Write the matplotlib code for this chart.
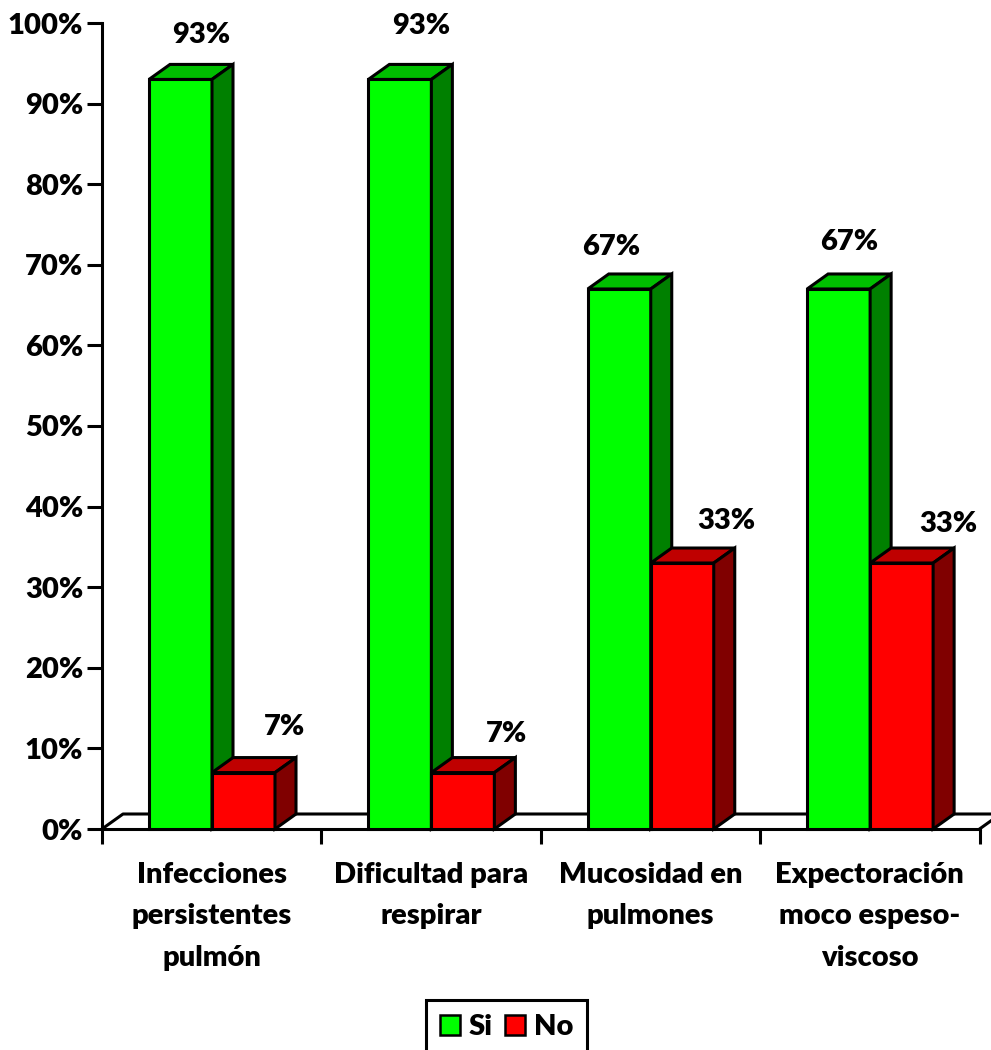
import numpy as np
import matplotlib
matplotlib.use("Agg")
import matplotlib.pyplot as plt
from matplotlib.patches import Patch, Polygon

plt.rcParams["font.family"] = ["Lato", "DejaVu Sans"]
plt.rcParams["font.weight"] = "heavy"

categories = ["Infecciones\npersistentes\npulmón", "Dificultad para\nrespirar",
              "Mucosidad en\npulmones", "Expectoración\nmoco espeso-\nviscoso"]
si_values = [93, 93, 67, 67]
no_values = [7, 7, 33, 33]
y_ticks = [0, 10, 20, 30, 40, 50, 60, 70, 80, 90, 100]

W, H = 991, 1050
LEFT, RIGHT, TOP, BOTTOM = 102, 979.5, 23, 829
LW = 2.2
FS = 21
WEIGHT = "heavy"

# depth of the fake 3d projection, in data units
DX = 21 / ((RIGHT - LEFT) / 4)
DY = 15 / ((BOTTOM - TOP) / 100)
BAR_W = 63 / ((RIGHT - LEFT) / 4)
BAR_START = 47 / ((RIGHT - LEFT) / 4)

# label offsets from the top centre of the bar (x in categories, y in %)
si_offsets = [(0.093, 5.46), (0.098, 6.57), (-0.039, 5.16), (0.046, 5.78)]
no_offsets = [(0.189, 5.6), (0.198, 4.74), (0.203, 5.16), (0.214, 4.79)]


def bar3d(ax, x, value, front, top, side):
    ax.bar(x, value, BAR_W, align="edge", color=front, edgecolor="black",
           linewidth=LW, clip_on=False, zorder=3)
    x1 = x + BAR_W
    top_pts = [(x, value), (x + DX, value + DY), (x1 + DX, value + DY), (x1, value)]
    side_pts = [(x1, 0), (x1 + DX, DY), (x1 + DX, value + DY), (x1, value)]
    for pts, col in ((top_pts, top), (side_pts, side)):
        ax.add_patch(Polygon(pts, closed=True, facecolor=col, edgecolor="black",
                             linewidth=LW, joinstyle="miter", clip_on=False, zorder=3))


fig = plt.figure(figsize=(W / 100, H / 100), dpi=100)
ax = fig.add_axes([LEFT / W, 1 - BOTTOM / H, (RIGHT - LEFT) / W, (BOTTOM - TOP) / H])
ax.set_xlim(0, 4)
ax.set_ylim(0, 100)

for side in ("top", "right"):
    ax.spines[side].set_visible(False)
ax.spines["left"].set_linewidth(LW)
ax.spines["bottom"].set_linewidth(LW)

# floor of the chart
ax.plot([0, DX, 4 + 2 * DX], [0, DY, DY], color="black", lw=LW, clip_on=False, zorder=1)
ax.plot([4, 4 + DX], [0, DY], color="black", lw=LW, clip_on=False, zorder=1)

ax.set_yticks(y_ticks)
ax.set_yticklabels(["%d%%" % v for v in y_ticks], fontsize=FS, fontweight=WEIGHT)
ax.set_xticks(range(5))
ax.set_xticklabels([])
ax.set_xticks(np.arange(4) + 0.5, categories, minor=True, fontsize=FS,
              fontweight=WEIGHT, linespacing=1.72)
ax.tick_params(axis="x", which="major", length=11, width=LW)
ax.tick_params(axis="x", which="minor", length=0, pad=24)
ax.tick_params(axis="y", length=11, width=LW, pad=2.5)

for i in range(4):
    x_si = i + BAR_START
    x_no = x_si + BAR_W
    bar3d(ax, x_si, si_values[i], "#00FF00", "#00BF00", "#008000")
    bar3d(ax, x_no, no_values[i], "#FF0000", "#BF0000", "#800000")
    ax.text(x_si + BAR_W / 2 + si_offsets[i][0], si_values[i] + si_offsets[i][1],
            "%d%%" % si_values[i], ha="center", va="center", fontsize=FS,
            fontweight=WEIGHT, clip_on=False, zorder=5)
    ax.text(x_no + BAR_W / 2 + no_offsets[i][0], no_values[i] + no_offsets[i][1],
            "%d%%" % no_values[i], ha="center", va="center", fontsize=FS,
            fontweight=WEIGHT, clip_on=False, zorder=5)

# legend frame runs off the bottom edge of the figure
handles = [Patch(facecolor="#00FF00", edgecolor="black", linewidth=1.8, label="Si"),
           Patch(facecolor="#FF0000", edgecolor="black", linewidth=1.8, label="No")]
leg = fig.legend(handles=handles, ncol=2, loc="center",
                 bbox_to_anchor=(506.5 / W, 1 - 1027 / H), fontsize=FS,
                 handlelength=0.7, handleheight=0.7, handletextpad=0.3,
                 columnspacing=0.42, borderpad=0.48, borderaxespad=0, fancybox=False,
                 framealpha=1, edgecolor="black")
leg.get_frame().set_linewidth(LW)

fig.savefig("out.png", dpi=100)
